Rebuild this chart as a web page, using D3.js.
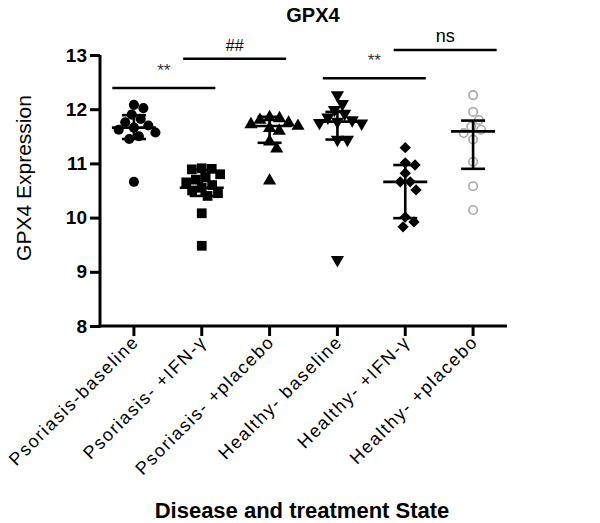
<!DOCTYPE html>
<html><head><meta charset="utf-8">
<script src="https://cdn.jsdelivr.net/npm/d3@7"></script>
<style>body{margin:0;background:#fff}svg{display:block}text{font-family:"Liberation Sans",Arial,sans-serif}</style>
</head><body>
<script>
const categories = ["Psoriasis-baseline","Psoriasis- +IFN-\u03b3","Psoriasis- +placebo","Healthy- baseline","Healthy- +IFN-\u03b3","Healthy- +placebo"];
const psoBaseline = [12.08,12.02,11.9,11.82,11.76,11.7,11.66,11.62,11.57,11.5,11.45,10.66];
const psoIFN = [10.9,10.91,10.89,10.8,10.74,10.7,10.65,10.6,10.55,10.5,10.45,10.4,10.08,9.48];
const psoPlacebo = [11.85,11.83,11.8,11.75,11.72,11.69,11.65,11.6,11.4,11.27,10.68];
const hlBaseline = [12.26,12.1,11.99,11.92,11.85,11.8,11.77,11.75,11.74,11.44,11.44,9.22];
const hlIFN = [11.29,11.01,10.97,10.82,10.66,10.66,10.51,10.01,9.92,9.83];
const hlPlacebo = [12.26,11.95,11.8,11.68,11.62,11.56,11.44,11.03,10.58,10.14];
const centers = [11.66,10.55,11.69,11.77,10.66,11.59];
const lows = [11.45,10.4,11.38,11.44,9.99,10.9];
const highs = [11.89,10.88,11.86,11.95,10.97,11.79];
const yTicks = [8,9,10,11,12,13];
const sigLabels = ["**","##","**","ns"];
const sigPairs = [[0,1],[1,2],[3,4],[4,5]];
const sigLevels = [12.39,12.93,12.57,13.09];

const series = [psoBaseline,psoIFN,psoPlacebo,hlBaseline,hlIFN,hlPlacebo];
const W=600,H=523;
const svg=d3.select("body").append("svg").attr("width",W).attr("height",H);
const x=d3.scaleBand().domain(categories).range([100,507]).paddingInner(0).paddingOuter(0);
const cx=c=>x(c)+x.bandwidth()/2;
const y=d3.scaleLinear().domain([8,13]).range([326,55]);

// title
svg.append("text").attr("x",313).attr("y",22).attr("text-anchor","middle").attr("font-size",20).attr("font-weight","bold").text("GPX4");
// y label
svg.append("text").attr("transform","translate(31,178) rotate(-90)").attr("text-anchor","middle").attr("font-size",21).text("GPX4 Expression");
// x label
svg.append("text").attr("x",302).attr("y",518).attr("text-anchor","middle").attr("font-size",22).attr("font-weight","bold").text("Disease and treatment State");

// axes
const ya=svg.append("g").attr("transform","translate(100,0)").call(d3.axisLeft(y).tickValues(yTicks).tickSize(10).tickPadding(3).tickFormat(d3.format("d")));
ya.select(".domain").attr("stroke-width",3).attr("d","M0,"+(y(8)+1.5)+"V"+y(13));
ya.selectAll(".tick line").attr("stroke-width",3);
ya.selectAll(".tick text").attr("font-size",19).attr("font-weight","bold").attr("font-family","Liberation Sans, Arial, sans-serif");

const xa=svg.append("g").attr("transform","translate(0,"+y(8)+")").call(d3.axisBottom(x).tickSize(10).tickSizeOuter(0));
xa.select(".domain").attr("stroke-width",3).attr("d","M98.5,0H507");
xa.selectAll(".tick line").attr("stroke-width",3);
xa.selectAll(".tick text").attr("font-size",18).attr("letter-spacing","1.6px").attr("font-family","Liberation Sans, Arial, sans-serif")
  .attr("text-anchor","end").attr("dy",0).attr("y",0)
  .attr("transform","translate(6,17) rotate(-45)");

// swarm
function swarm(vals,r){
  const pts=vals.map(v=>({v,py:y(v)})).sort((a,b)=>a.py-b.py);
  const placed=[];
  pts.forEach(p=>{
    const near=placed.filter(q=>Math.abs(q.py-p.py)<2*r);
    const cands=[0];
    near.forEach(q=>{const dx=Math.sqrt(4*r*r-(q.py-p.py)**2);cands.push(q.dx+dx,q.dx-dx);});
    cands.sort((a,b)=>Math.abs(a)-Math.abs(b));
    for(const c of cands){
      if(near.every(q=>(q.dx-c)**2+(q.py-p.py)**2>=4*r*r-0.01)){p.dx=c;break;}
    }
    placed.push(p);
  });
  return placed;
}
const symbols=[
  {t:d3.symbolCircle,s:80,rot:0,fill:"#000",stroke:"none"},
  {t:d3.symbolSquare,s:95,rot:0,fill:"#000",stroke:"none"},
  {t:d3.symbolTriangle,s:75,rot:0,fill:"#000",stroke:"none"},
  {t:d3.symbolTriangle,s:75,rot:180,fill:"#000",stroke:"none"},
  {t:d3.symbolSquare,s:64,rot:45,fill:"#000",stroke:"none"},
  {t:d3.symbolCircle,s:56,rot:0,fill:"#fff",stroke:"#a8a8a8"}
];
categories.forEach((c,i)=>{
  const g=svg.append("g");
  const sym=symbols[i];
  const pts=swarm(series[i],5.0);
  g.selectAll("path").data(pts).join("path")
    .attr("d",d3.symbol().type(sym.t).size(sym.s))
    .attr("transform",d=>`translate(${cx(c)+d.dx},${d.py}) rotate(${sym.rot})`)
    .attr("fill",sym.fill).attr("stroke",sym.stroke).attr("stroke-width",1.6);
  const e=svg.append("g").attr("stroke","#000").attr("stroke-width",2.6);
  const X=cx(c);
  e.append("line").attr("x1",X).attr("x2",X).attr("y1",y(highs[i])).attr("y2",y(lows[i]));
  e.append("line").attr("x1",X-22).attr("x2",X+22).attr("y1",y(centers[i])).attr("y2",y(centers[i]));
  e.append("line").attr("x1",X-12).attr("x2",X+12).attr("y1",y(highs[i])).attr("y2",y(highs[i]));
  e.append("line").attr("x1",X-12).attr("x2",X+12).attr("y1",y(lows[i])).attr("y2",y(lows[i]));
});

// significance
const sigShift=[-4,-1,3,6];
sigPairs.forEach((p,i)=>{
  const m=(cx(categories[p[0]])+cx(categories[p[1]]))/2+sigShift[i];
  const yy=y(sigLevels[i]);
  svg.append("line").attr("x1",m-51.5).attr("x2",m+51.5).attr("y1",yy).attr("y2",yy).attr("stroke","#000").attr("stroke-width",2.5);
  const isAst=sigLabels[i]==="**", isNs=sigLabels[i]==="ns";
  svg.append("text").attr("x",m).attr("y",yy-(isAst?12:8)).attr("text-anchor","middle")
    .attr("font-size",isAst?17:(isNs?18:16)).attr("fill",isAst?"#333":"#000")
    .attr("font-family","DejaVu Sans, sans-serif").text(sigLabels[i]);
});
</script>
</body></html>
